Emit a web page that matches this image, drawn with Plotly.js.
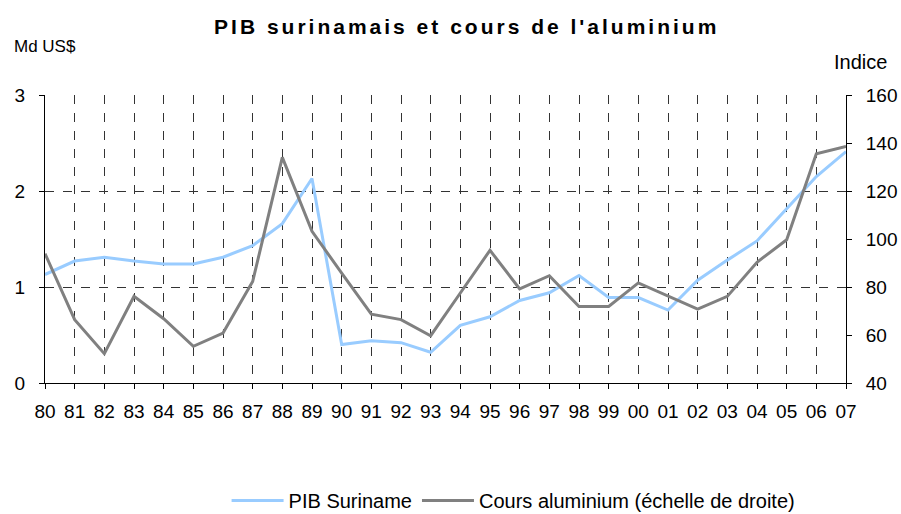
<!DOCTYPE html>
<html>
<head>
<meta charset="utf-8">
<script src="https://cdn.plot.ly/plotly-3.0.1.min.js"></script>
<style>html,body{margin:0;padding:0;background:#fff;}#chart{width:901px;height:514px;}</style>
</head>
<body>
<div id="chart"></div>
<script>
const years = ["80","81","82","83","84","85","86","87","88","89","90","91","92","93","94","95","96","97","98","99","00","01","02","03","04","05","06","07"];
const pibSuriname = [1.13,1.27,1.31,1.27,1.24,1.24,1.31,1.43,1.66,2.13,0.40,0.44,0.42,0.32,0.60,0.69,0.86,0.94,1.12,0.89,0.89,0.76,1.07,1.28,1.48,1.81,2.15,2.41];
const coursAluminium = [93.9,66.4,52.2,76.1,66.8,55.3,60.8,82.3,134,103.2,85.8,68.7,66.4,59.7,77.5,95.3,79.2,84.7,71.9,71.9,81.7,76.1,70.8,76.1,90.3,99.7,135.5,138.6];
const leftTicks = [0,1,2,3];
const rightTicks = [40,60,80,100,120,140,160];

const font = "Liberation Sans, Arial, sans-serif";
const legendLineLen = 52;
const data = [
  {x: years, y: pibSuriname, name: "PIB Suriname", type: "scatter", mode: "lines",
   line: {color: "#99CCFF", width: 3}, yaxis: "y"},
  {x: years, y: coursAluminium, name: "Cours aluminium (échelle de droite)", type: "scatter", mode: "lines",
   line: {color: "#808080", width: 3}, yaxis: "y2"}
];
const layout = {
  width: 901, height: 514,
  margin: {l: 45, r: 55, t: 95, b: 131, autoexpand: false},
  paper_bgcolor: "#fff", plot_bgcolor: "#fff",
  font: {family: font, size: 19, color: "#000"},
  title: {text: "<b>PIB surinamais et cours de l'aluminium</b>", x: 0.518, xanchor: "center", y: 0.9475, yanchor: "middle",
          font: {family: font, size: 21, color: "#000"}},
  showlegend: true,
  legend: {orientation: "h", x: 0.585, xanchor: "center", y: -0.408, yanchor: "middle",
           font: {family: font, size: 20, color: "#000"}, itemwidth: legendLineLen, tracegroupgap: 0,
           borderwidth: 0},
  xaxis: {type: "category", range: [0, 27], showgrid: true, gridcolor: "#333", griddash: "dash", gridwidth: 1,
          showline: true, linecolor: "#000", linewidth: 1, ticks: "outside", ticklen: 5, tickcolor: "#000",
          tickfont: {family: font, size: 19}, zeroline: false, ticklabelstandoff: 6, automargin: false},
  yaxis: {range: [0, 3], tickvals: leftTicks, showgrid: true, gridcolor: "#333", griddash: "dash", gridwidth: 1,
          showline: true, linecolor: "#000", linewidth: 1, ticks: "outside", ticklen: 5, tickcolor: "#000",
          zeroline: false, tickfont: {family: font, size: 19}, ticklabelstandoff: 10, automargin: false},
  yaxis2: {range: [40, 160], tickvals: rightTicks, overlaying: "y", side: "right", showgrid: false,
           showline: true, linecolor: "#000", linewidth: 1, ticks: "outside", ticklen: 5, tickcolor: "#000",
           zeroline: false, tickfont: {family: font, size: 19}, ticklabelstandoff: 10, automargin: false},
  annotations: [
    {text: "Md US$", xref: "paper", yref: "paper", x: -0.0412, y: 1.170, xanchor: "left", yanchor: "middle",
     showarrow: false, font: {family: font, size: 17, color: "#000"}},
    {text: "Indice", xref: "paper", yref: "paper", x: 1.0175, y: 1.1146, xanchor: "center", yanchor: "middle",
     showarrow: false, font: {family: font, size: 20, color: "#000"}}
  ]
};
Plotly.newPlot("chart", data, layout, {displayModeBar: false, staticPlot: true}).then(function(gd){
  const t = gd.querySelector(".gtitle");
  if (t) t.style.letterSpacing = "3px";
  gd.querySelectorAll(".legend .legendlines path").forEach(function(p){
    p.setAttribute("d", "M5,0h" + legendLineLen);
  });
});
</script>
</body>
</html>
